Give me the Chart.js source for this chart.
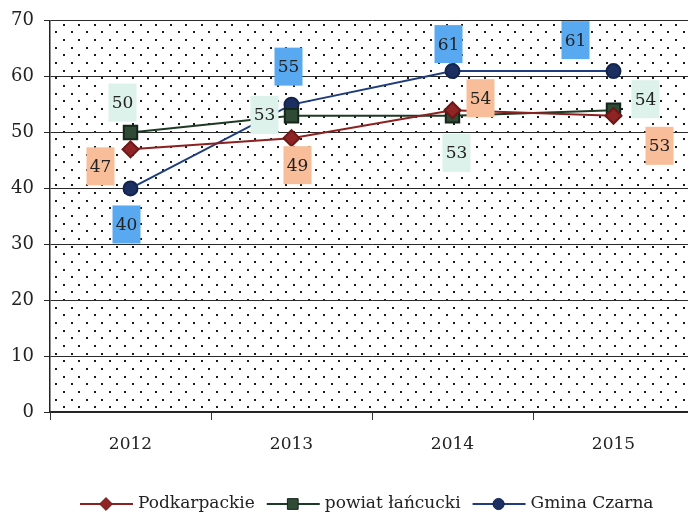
<!DOCTYPE html>
<html>
<head>
<meta charset="utf-8">
<script src="https://cdn.jsdelivr.net/npm/chart.js@4.4.1/dist/chart.umd.min.js"></script>
<style>
  html, body { margin: 0; padding: 0; background: #fff; overflow: hidden; width: 688px; height: 515px; }
  #c { display: block; }
</style>
</head>
<body>
<canvas id="c" width="694" height="515" style="width:694px;height:515px"></canvas>
<script>
var years = ["2012", "2013", "2014", "2015"]
var podkarpackie = [47, 49, 54, 53]
var powiat = [50, 53, 53, 54]
var gmina = [40, 55, 61, 61]
var seriesNames = ["Podkarpackie", "powiat łańcucki", "Gmina Czarna"]
var yTicks = [0, 10, 20, 30, 40, 50, 60, 70]

var FONT = "'DejaVu Serif', 'Liberation Serif', serif"

// where each value label box sits, relative to its point
var labelOffsets = [
  [[-30, 17], [6, 27], [28, -12], [46, 30]],
  [[-8, -30], [-27, -1], [4, 37], [32, -11]],
  [[-4, 36], [-3, -38], [-4, -27], [-38, -31]]
]
var labelBg = ["#f8bd99", "#dcf2ea", "#58a9ef"]

const dotsPlugin = {
  id: "dots",
  beforeDraw(chart) {
    const ctx = chart.ctx, a = chart.chartArea
    ctx.save()
    ctx.fillStyle = "#fff"
    ctx.fillRect(0, 0, chart.width, chart.height)
    ctx.fillStyle = "#1a1a1a"
    let row = 0
    for (let y = a.top + 3.9; y < a.bottom - 1; y += 7.65, row++) {
      let x0 = a.left + (row % 2 ? 6.3 : 14)
      for (let x = x0; x < a.right; x += 15.3) {
        ctx.fillRect(Math.round(x) - 1, Math.round(y) - 1, 2, 2)
      }
    }
    ctx.restore()
  }
}

const labelPlugin = {
  id: "valueBoxes",
  afterDatasetsDraw(chart) {
    const ctx = chart.ctx
    ctx.save()
    ctx.font = "17px " + FONT
    ctx.textAlign = "center"
    ctx.textBaseline = "middle"
    chart.data.datasets.forEach((ds, i) => {
      chart.getDatasetMeta(i).data.forEach((pt, j) => {
        const off = labelOffsets[i][j]
        const cx = pt.x + off[0], cy = pt.y + off[1]
        ctx.fillStyle = labelBg[i]
        ctx.fillRect(cx - 14, cy - 19, 28, 38)
        ctx.fillStyle = "#222"
        ctx.fillText(String(ds.data[j]), cx, cy + 1)
      })
    })
    ctx.restore()
  }
}

function drawMarker(ctx, style, x, y, r, fill, stroke) {
  ctx.beginPath()
  if (style === "circle") {
    ctx.arc(x, y, r, 0, Math.PI * 2)
  } else if (style === "rect") {
    const s = r * Math.SQRT1_2
    ctx.rect(x - s, y - s, 2 * s, 2 * s)
  } else {
    ctx.moveTo(x, y - r); ctx.lineTo(x + r, y); ctx.lineTo(x, y + r); ctx.lineTo(x - r, y); ctx.closePath()
  }
  ctx.fillStyle = fill
  ctx.fill()
  ctx.lineWidth = 1
  ctx.strokeStyle = stroke
  ctx.stroke()
}

const legendPlugin = {
  id: "lineLegend",
  afterDraw(chart) {
    const ctx = chart.ctx
    ctx.save()
    ctx.font = "17px " + FONT
    ctx.textBaseline = "middle"
    let x = 80
    const y = 504
    chart.data.datasets.forEach((ds) => {
      ctx.strokeStyle = ds.borderColor
      ctx.lineWidth = 2
      ctx.beginPath(); ctx.moveTo(x, y); ctx.lineTo(x + 53, y); ctx.stroke()
      drawMarker(ctx, ds.pointStyle, x + 26, y, ds.pointRadius * 0.8, ds.pointBackgroundColor, ds.pointBorderColor)
      x += 58
      ctx.fillStyle = "#222"
      ctx.fillText(ds.label, x, y)
      x += ctx.measureText(ds.label).width + 12
    })
    ctx.restore()
  }
}

new Chart(document.getElementById("c"), {
  type: "line",
  data: {
    labels: years,
    datasets: [
      {
        label: seriesNames[0],
        data: podkarpackie,
        borderColor: "#8c2121",
        borderWidth: 2,
        pointStyle: "rectRot",
        pointRadius: 8,
        pointBackgroundColor: "#8e2424",
        pointBorderColor: "#6e1717",
        tension: 0
      },
      {
        label: seriesNames[1],
        data: powiat,
        borderColor: "#1f3a24",
        borderWidth: 2,
        pointStyle: "rect",
        pointRadius: 9.5,
        pointBackgroundColor: "#2f4a35",
        pointBorderColor: "#15261a",
        tension: 0
      },
      {
        label: seriesNames[2],
        data: gmina,
        borderColor: "#1f3d7c",
        borderWidth: 2,
        pointStyle: "circle",
        pointRadius: 7,
        pointBackgroundColor: "#1b2f60",
        pointBorderColor: "#13244d",
        tension: 0
      }
    ]
  },
  options: {
    responsive: false,
    animation: false,
    layout: { autoPadding: false, padding: { top: 20, right: 0, bottom: 60, left: 0 } },
    plugins: {
      legend: { display: false },
      tooltip: { enabled: false }
    },
    scales: {
      x: {
        offset: true,
        afterFit: (s) => { s.height = 43 },
        grid: { offset: true, drawOnChartArea: false, drawTicks: true, tickLength: 8, color: "#333", lineWidth: 1 },
        border: { color: "#222", width: 1.5 },
        ticks: { font: { family: FONT, size: 17 }, color: "#222", padding: 14 }
      },
      y: {
        min: 0,
        max: 70,
        afterFit: (s) => { s.width = 50 },
        afterBuildTicks: (s) => { s.ticks = yTicks.map(v => ({ value: v })) },
        grid: { color: "#2a2a2a", lineWidth: 1, tickLength: 6 },
        border: { color: "#222", width: 1.5 },
        ticks: { font: { family: FONT, size: 18 }, color: "#222", padding: 10 }
      }
    }
  },
  plugins: [dotsPlugin, labelPlugin, legendPlugin]
})
</script>
</body>
</html>
